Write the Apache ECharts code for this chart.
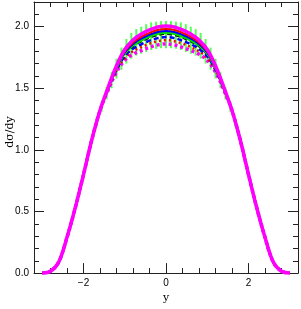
<!DOCTYPE html>
<html>
<head>
<meta charset="utf-8">
<script src="https://cdn.jsdelivr.net/npm/echarts@6/dist/echarts.min.js"></script>
<style>html,body{margin:0;padding:0;background:#fff}#c{width:301px;height:309px}</style>
</head>
<body>
<div id="c"></div>
<script>
const xs = [-3.0,-2.8,-2.6,-2.4,-2.2,-2.0,-1.8,-1.6,-1.4,-1.2,-1.0,-0.8,-0.6,-0.4,-0.2,0,0.2,0.4,0.6,0.8,1.0,1.2,1.4,1.6,1.8,2.0,2.2,2.4,2.6,2.8,3.0];
const magentaSolid  = [0,0.015,0.09,0.29,0.53,0.80,1.08,1.32,1.51,1.683,1.814,1.892,1.94,1.973,1.997,2.005,1.997,1.973,1.94,1.892,1.814,1.683,1.51,1.32,1.08,0.80,0.53,0.29,0.09,0.015,0];
const redSolid      = [0,0.015,0.09,0.29,0.53,0.80,1.08,1.32,1.506,1.674,1.799,1.872,1.917,1.949,1.972,1.98,1.972,1.949,1.917,1.872,1.799,1.674,1.506,1.32,1.08,0.80,0.53,0.29,0.09,0.015,0];
const blueSolid     = [0,0.015,0.09,0.29,0.53,0.80,1.08,1.32,1.504,1.669,1.79,1.86,1.903,1.934,1.957,1.965,1.957,1.934,1.903,1.86,1.79,1.669,1.504,1.32,1.08,0.80,0.53,0.29,0.09,0.015,0];
const greenSolid    = [0,0.015,0.09,0.29,0.53,0.80,1.08,1.32,1.502,1.664,1.781,1.848,1.889,1.92,1.942,1.95,1.942,1.92,1.889,1.848,1.781,1.664,1.502,1.32,1.08,0.80,0.53,0.29,0.09,0.015,0];
const blackDashed   = [0,0.015,0.09,0.29,0.53,0.80,1.08,1.32,1.50,1.66,1.775,1.84,1.88,1.91,1.932,1.94,1.932,1.91,1.88,1.84,1.775,1.66,1.50,1.32,1.08,0.80,0.53,0.29,0.09,0.015,0];
const blueDashed    = [0,0.015,0.09,0.29,0.53,0.80,1.08,1.32,1.496,1.651,1.76,1.82,1.857,1.886,1.907,1.915,1.907,1.886,1.857,1.82,1.76,1.651,1.496,1.32,1.08,0.80,0.53,0.29,0.09,0.015,0];
const redDotted     = [0,0.015,0.09,0.29,0.53,0.80,1.08,1.32,1.493,1.643,1.745,1.80,1.834,1.862,1.882,1.89,1.882,1.862,1.834,1.80,1.745,1.643,1.493,1.32,1.08,0.80,0.53,0.29,0.09,0.015,0];
const magentaDotted = [0,0.015,0.09,0.29,0.53,0.80,1.08,1.32,1.488,1.632,1.727,1.776,1.806,1.832,1.852,1.86,1.852,1.832,1.806,1.776,1.727,1.632,1.488,1.32,1.08,0.80,0.53,0.29,0.09,0.015,0];

const errX  = [-1.68,-1.56,-1.44,-1.32,-1.2,-1.08,-0.96,-0.84,-0.72,-0.6,-0.48,-0.36,-0.24,-0.12,0,0.12,0.24,0.36,0.48,0.6,0.72,0.84,0.96,1.08,1.2,1.32,1.44,1.56,1.68];
const errLo = [1.19,1.31,1.41,1.50,1.58,1.65,1.70,1.74,1.765,1.78,1.795,1.81,1.82,1.825,1.825,1.825,1.82,1.81,1.795,1.78,1.765,1.74,1.70,1.65,1.58,1.50,1.41,1.31,1.19];
const errHi = [1.25,1.39,1.51,1.63,1.74,1.83,1.90,1.95,1.98,2.0,2.02,2.035,2.04,2.045,2.045,2.045,2.04,2.035,2.02,2.0,1.98,1.95,1.90,1.83,1.74,1.63,1.51,1.39,1.25];

const xMajorTicks = [-2, 0, 2];
const xLabels = ['−2', '0', '2'];

const pair = a => xs.map((x, i) => [x, a[i]]);
const font = 'Liberation Sans, Arial, sans-serif';

function xAx(pos, major) {
  const o = {
    type: 'value', min: -3.2, max: 3.2, position: pos,
    axisLine: { show: major, onZero: false, lineStyle: { color: '#222', width: 1 } },
    splitLine: { show: false },
  };
  if (major) {
    o.axisTick = { show: true, inside: true, length: 10, customValues: xMajorTicks, lineStyle: { color: '#222' } };
    o.axisLabel = { show: pos === 'bottom', customValues: xMajorTicks, fontSize: 10, fontFamily: font, color: '#000', margin: 5,
      formatter: v => xLabels[xMajorTicks.indexOf(v)] ?? '' };
    if (pos === 'bottom') {
      o.name = 'y'; o.nameLocation = 'middle'; o.nameGap = 17;
      o.nameTextStyle = { fontFamily: 'DejaVu Serif, serif', fontSize: 11, color: '#000' };
    }
  } else {
    o.interval = 0.4;
    o.axisTick = { show: true, inside: true, length: 5, lineStyle: { color: '#222' } };
    o.axisLabel = { show: false };
  }
  return o;
}
function yAx(pos, major) {
  const o = {
    type: 'value', min: 0, max: 2.2, position: pos,
    axisLine: { show: major, onZero: false, lineStyle: { color: '#222', width: 1 } },
    splitLine: { show: false },
  };
  if (major) {
    o.interval = 0.5;
    o.axisTick = { show: true, inside: true, length: 10, lineStyle: { color: '#222' } };
    o.axisLabel = { show: pos === 'left', fontSize: 10, fontFamily: font, color: '#000', margin: 5, showMaxLabel: false,
      formatter: v => v.toFixed(1) };
  } else {
    o.interval = 0.1;
    o.axisTick = { show: true, inside: true, length: 5, lineStyle: { color: '#222' } };
    o.axisLabel = { show: false };
  }
  return o;
}

function lineSeries(data, color, width, type) {
  return {
    type: 'line', data: pair(data), xAxisIndex: 0, yAxisIndex: 0,
    smooth: 0.35, symbol: 'none', silent: true, z: 2,
    lineStyle: { color: color, width: width, type: type }
  };
}

const chart = echarts.init(document.getElementById('c'), null, { renderer: 'canvas' });
chart.setOption({
  animation: false,
  backgroundColor: '#fff',
  grid: { left: 34, right: 3, top: 2, bottom: 28 },
  xAxis: [xAx('bottom', true), xAx('bottom', false), xAx('top', true), xAx('top', false)],
  yAxis: [yAx('left', true), yAx('left', false), yAx('right', true), yAx('right', false)],
  graphic: [{
    type: 'text', x: 10, y: 132, rotation: Math.PI / 2,
    style: { text: 'dσ/dy', font: '11px "DejaVu Serif", serif', fill: '#000', align: 'center', verticalAlign: 'middle' }
  }],
  series: [
    {
      type: 'custom', xAxisIndex: 0, yAxisIndex: 0, silent: true, z: 1,
      data: errX.map((x, i) => [x, errLo[i], errHi[i]]),
      encode: { x: 0, y: [1, 2] },
      renderItem: (params, api) => {
        const p1 = api.coord([api.value(0), api.value(1)]);
        const p2 = api.coord([api.value(0), api.value(2)]);
        return { type: 'line', shape: { x1: p1[0], y1: p1[1], x2: p2[0], y2: p2[1] },
          style: { stroke: '#55ff55', lineWidth: 2 } };
      }
    },
    lineSeries(magentaDotted, '#ff00ff', 3.5, [3, 3]),
    lineSeries(redDotted, '#ff0000', 2.5, [2, 3]),
    lineSeries(blueDashed, '#0000ff', 2.5, [5, 3]),
    lineSeries(blackDashed, '#000000', 2, [5, 3]),
    lineSeries(greenSolid, '#00dd00', 2.5, 'solid'),
    lineSeries(blueSolid, '#0000ff', 2, 'solid'),
    lineSeries(redSolid, '#ff0000', 2, 'solid'),
    lineSeries(magentaSolid, '#ff00ff', 3.5, 'solid')
  ]
});
</script>
</body>
</html>
